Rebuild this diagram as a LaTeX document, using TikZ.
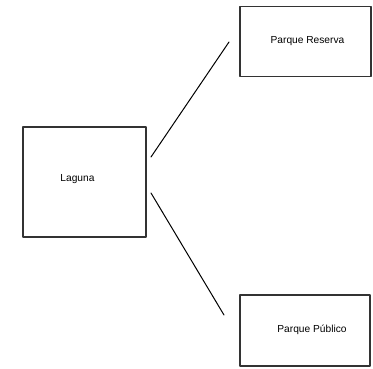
\documentclass[tikz,border=0pt]{standalone}
\usepackage{fontspec}
\setmainfont{Liberation Sans}
\begin{document}
\begin{tikzpicture}[x=1pt, y=-1pt, line join=round, line cap=round]
						\tikzset{caja/.style={draw=black!80, line width=1.1pt, inner sep=0pt},
							rotulo/.style={font=\fontsize{10.2}{12}\selectfont},
							enlace/.style={black, line width=1pt}}
						\useasboundingbox (0,0) rectangle (373,369);
						\node[caja, minimum width=123pt, minimum height=110pt, label={[rotulo, xshift=-7pt, yshift=3pt]center:Laguna}] (laguna) at (84.5,182) {};
						\node[caja, minimum width=131pt, minimum height=70pt, label={[rotulo, xshift=2pt]center:Parque Reserva}] (reserva) at (305.5,41.5) {};
						\node[caja, minimum width=130pt, minimum height=71pt, label={[rotulo, xshift=7pt, yshift=1pt]center:Parque Público}] (publico) at (305,330.5) {};
						\coordinate (A1) at (151,157);
						\coordinate (B1) at (229,42);
						\coordinate (A2) at (151,193);
						\coordinate (B2) at (224,315);
						\draw[enlace] (A1) -- (B1);
						\draw[enlace] (A2) -- (B2);
					\end{tikzpicture}
\end{document}
